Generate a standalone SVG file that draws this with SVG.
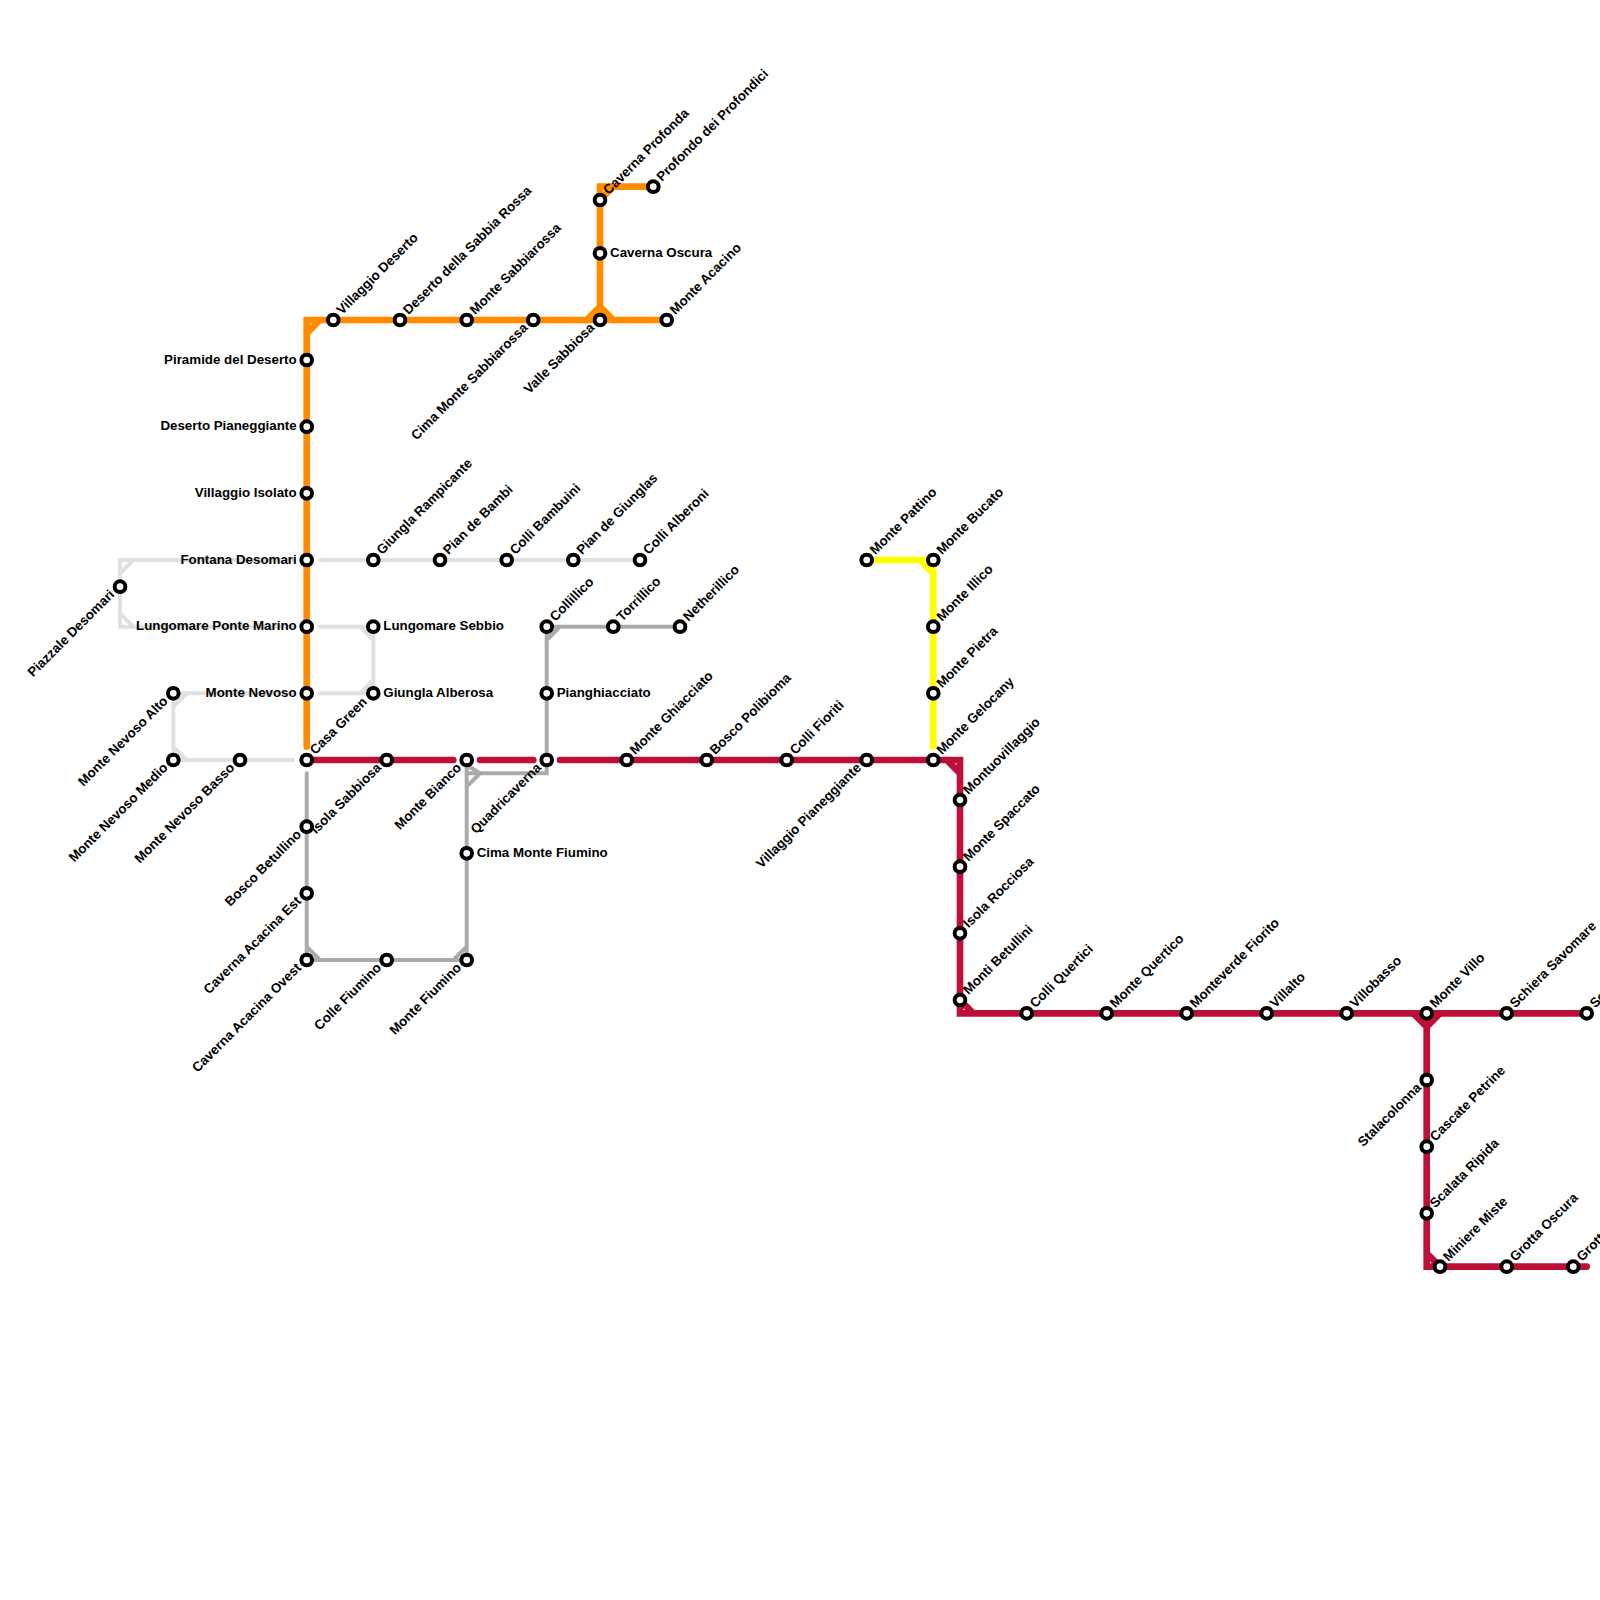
<svg xmlns="http://www.w3.org/2000/svg" width="1600" height="1600" viewBox="0 0 1600 1600">
<style>
.ln{fill:none;stroke-linecap:round;stroke-linejoin:miter}
.lg{stroke:#e0e0e0;stroke-width:4}
.gr{stroke:#aaaaaa;stroke-width:4}
.ye{stroke:#ffff00;stroke-width:6.67}
.or{stroke:#ff8c00;stroke-width:6.67}
.re{stroke:#bd1038;stroke-width:6.67}
circle{fill:#fff;stroke:#000;stroke-width:4}
text{font-family:"Liberation Sans",Arial,sans-serif;font-size:13.33px;font-weight:700;fill:#000}
.l,.ld{text-anchor:end}
</style>
<rect width="1600" height="1600" fill="#fff"/>
<g id="connectors">
<path class="ln lg" d="M293.3 560H120V626.7H293.3M120 573.3L133.3 560M120 613.3L133.3 626.7"/>
<path class="ln lg" d="M320 560H640"/>
<path class="ln lg" d="M320 626.7H373.3V693.3H320M360 626.7L373.3 640M373.3 680L360 693.3"/>
<path class="ln lg" d="M293.3 693.3H173.3V760H293.3M186.7 693.3L173.3 706.7M173.3 746.7L186.7 760"/>
<path class="ln gr" d="M306.7 773.3V960H466.7V766.7M306.7 946.7L320 960M453.3 960L466.7 946.7"/>
<path class="ln gr" d="M466.7 773.3H546.7V626.7H680M466.7 765L480 773.3L466.7 786.7M546.7 640L560 626.7"/>
<path class="ln ye" d="M866.7 560H933.3V746.7M920 560L933.3 573.3"/>
<path class="ln or" d="M306.7 746.7V320H666.7M306.7 333.3L320 320"/>
<path class="ln or" d="M600 320V186.7H653.3M586.7 320L600 306.7L613.3 320M600 200L613.3 186.7"/>
<path class="ln re" d="M306.7 760H453.3M480 760H533.3M560 760H960V1013.3H1586.7M946.7 760L960 773.3M960 1000L973.3 1013.3"/>
<path class="ln re" d="M1426.7 1013.3V1266.7H1586.7M1413.3 1013.3L1426.7 1026.7L1440 1013.3M1426.7 1253.3L1440 1266.7"/>
</g>
<g id="stations">
<g id="s-piazzale-desomari"><circle cx="120" cy="586.7" r="5.33"/><text class="ld" transform="translate(115.2 595.3) rotate(-45)">Piazzale Desomari</text></g>
<g id="s-monte-nevoso-alto"><circle cx="173.3" cy="693.3" r="5.33"/><text class="ld" transform="translate(168.5 701.9) rotate(-45)">Monte Nevoso Alto</text></g>
<g id="s-monte-nevoso-medio"><circle cx="173.3" cy="760" r="5.33"/><text class="ld" transform="translate(168.5 768.6) rotate(-45)">Monte Nevoso Medio</text></g>
<g id="s-monte-nevoso-basso"><circle cx="240" cy="760" r="5.33"/><text class="ld" transform="translate(235.2 768.6) rotate(-45)">Monte Nevoso Basso</text></g>
<g id="s-piramide"><circle cx="306.7" cy="360" r="5.33"/><text class="l" x="296.7" y="363.5">Piramide del Deserto</text></g>
<g id="s-deserto-pian"><circle cx="306.7" cy="426.7" r="5.33"/><text class="l" x="296.7" y="430.2">Deserto Pianeggiante</text></g>
<g id="s-villaggio-isolato"><circle cx="306.7" cy="493.3" r="5.33"/><text class="l" x="296.7" y="496.8">Villaggio Isolato</text></g>
<g id="s-fontana"><circle cx="306.7" cy="560" r="5.33"/><text class="l" x="296.7" y="563.5">Fontana Desomari</text></g>
<g id="s-lungomare-ponte"><circle cx="306.7" cy="626.7" r="5.33"/><text class="l" x="296.7" y="630.2">Lungomare Ponte Marino</text></g>
<g id="s-monte-nevoso"><circle cx="306.7" cy="693.3" r="5.33"/><text class="l" x="296.7" y="696.8">Monte Nevoso</text></g>
<g id="s-casa-green"><circle cx="306.7" cy="760" r="5.33"/><text class="ru" transform="translate(315.3 755.2) rotate(-45)">Casa Green</text></g>
<g id="s-bosco-betullino"><circle cx="306.7" cy="826.7" r="5.33"/><text class="ld" transform="translate(301.9 835.3) rotate(-45)">Bosco Betullino</text></g>
<g id="s-caverna-est"><circle cx="306.7" cy="893.3" r="5.33"/><text class="ld" transform="translate(301.9 901.9) rotate(-45)">Caverna Acacina Est</text></g>
<g id="s-caverna-ovest"><circle cx="306.7" cy="960" r="5.33"/><text class="ld" transform="translate(301.9 968.6) rotate(-45)">Caverna Acacina Ovest</text></g>
<g id="s-villaggio-deserto"><circle cx="333.3" cy="320" r="5.33"/><text class="ru" transform="translate(341.9 315.2) rotate(-45)">Villaggio Deserto</text></g>
<g id="s-deserto-sabbia"><circle cx="400" cy="320" r="5.33"/><text class="ru" transform="translate(408.6 315.2) rotate(-45)">Deserto della Sabbia Rossa</text></g>
<g id="s-monte-sabbiarossa"><circle cx="466.7" cy="320" r="5.33"/><text class="ru" transform="translate(475.3 315.2) rotate(-45)">Monte Sabbiarossa</text></g>
<g id="s-cima-sabbiarossa"><circle cx="533.3" cy="320" r="5.33"/><text class="ld" transform="translate(528.5 328.6) rotate(-45)">Cima Monte Sabbiarossa</text></g>
<g id="s-valle-sabbiosa"><circle cx="600" cy="320" r="5.33"/><text class="ld" transform="translate(595.2 328.6) rotate(-45)">Valle Sabbiosa</text></g>
<g id="s-monte-acacino"><circle cx="666.7" cy="320" r="5.33"/><text class="ru" transform="translate(675.3 315.2) rotate(-45)">Monte Acacino</text></g>
<g id="s-caverna-oscura"><circle cx="600" cy="253.3" r="5.33"/><text x="610" y="256.8">Caverna Oscura</text></g>
<g id="s-caverna-profonda"><circle cx="600" cy="200" r="5.33"/><text class="ru" transform="translate(608.6 195.2) rotate(-45)">Caverna Profonda</text></g>
<g id="s-profondo"><circle cx="653.3" cy="186.7" r="5.33"/><text class="ru" transform="translate(661.9 181.9) rotate(-45)">Profondo dei Profondici</text></g>
<g id="s-giungla-rampicante"><circle cx="373.3" cy="560" r="5.33"/><text class="ru" transform="translate(381.9 555.2) rotate(-45)">Giungla Rampicante</text></g>
<g id="s-pian-bambi"><circle cx="440" cy="560" r="5.33"/><text class="ru" transform="translate(448.6 555.2) rotate(-45)">Pian de Bambi</text></g>
<g id="s-colli-bambuini"><circle cx="506.7" cy="560" r="5.33"/><text class="ru" transform="translate(515.3 555.2) rotate(-45)">Colli Bambuini</text></g>
<g id="s-pian-giunglas"><circle cx="573.3" cy="560" r="5.33"/><text class="ru" transform="translate(581.9 555.2) rotate(-45)">Pian de Giunglas</text></g>
<g id="s-colli-alberoni"><circle cx="640" cy="560" r="5.33"/><text class="ru" transform="translate(648.6 555.2) rotate(-45)">Colli Alberoni</text></g>
<g id="s-lungomare-sebbio"><circle cx="373.3" cy="626.7" r="5.33"/><text x="383.3" y="630.2">Lungomare Sebbio</text></g>
<g id="s-giungla-alberosa"><circle cx="373.3" cy="693.3" r="5.33"/><text x="383.3" y="696.8">Giungla Alberosa</text></g>
<g id="s-collillico"><circle cx="546.7" cy="626.7" r="5.33"/><text class="ru" transform="translate(555.3 621.9) rotate(-45)">Collillico</text></g>
<g id="s-torrillico"><circle cx="613.3" cy="626.7" r="5.33"/><text class="ru" transform="translate(621.9 621.9) rotate(-45)">Torrillico</text></g>
<g id="s-netherillico"><circle cx="680" cy="626.7" r="5.33"/><text class="ru" transform="translate(688.6 621.9) rotate(-45)">Netherillico</text></g>
<g id="s-pianghiacciato"><circle cx="546.7" cy="693.3" r="5.33"/><text x="556.7" y="696.8">Pianghiacciato</text></g>
<g id="s-isola-sabbiosa"><circle cx="386.7" cy="760" r="5.33"/><text class="ld" transform="translate(381.9 768.6) rotate(-45)">Isola Sabbiosa</text></g>
<g id="s-monte-bianco"><circle cx="466.7" cy="760" r="5.33"/><text class="ld" transform="translate(461.9 768.6) rotate(-45)">Monte Bianco</text></g>
<g id="s-quadricaverna"><circle cx="546.7" cy="760" r="5.33"/><text class="ld" transform="translate(541.9 768.6) rotate(-45)">Quadricaverna</text></g>
<g id="s-cima-fiumino"><circle cx="466.7" cy="853.3" r="5.33"/><text x="476.7" y="856.8">Cima Monte Fiumino</text></g>
<g id="s-colle-fiumino"><circle cx="386.7" cy="960" r="5.33"/><text class="ld" transform="translate(381.9 968.6) rotate(-45)">Colle Fiumino</text></g>
<g id="s-monte-fiumino"><circle cx="466.7" cy="960" r="5.33"/><text class="ld" transform="translate(461.9 968.6) rotate(-45)">Monte Fiumino</text></g>
<g id="s-monte-ghiacciato"><circle cx="626.7" cy="760" r="5.33"/><text class="ru" transform="translate(635.3 755.2) rotate(-45)">Monte Ghiacciato</text></g>
<g id="s-bosco-polibioma"><circle cx="706.7" cy="760" r="5.33"/><text class="ru" transform="translate(715.3 755.2) rotate(-45)">Bosco Polibioma</text></g>
<g id="s-colli-fioriti"><circle cx="786.7" cy="760" r="5.33"/><text class="ru" transform="translate(795.3 755.2) rotate(-45)">Colli Fioriti</text></g>
<g id="s-villaggio-pian"><circle cx="866.7" cy="760" r="5.33"/><text class="ld" transform="translate(861.9 768.6) rotate(-45)">Villaggio Pianeggiante</text></g>
<g id="s-monte-pattino"><circle cx="866.7" cy="560" r="5.33"/><text class="ru" transform="translate(875.3 555.2) rotate(-45)">Monte Pattino</text></g>
<g id="s-monte-bucato"><circle cx="933.3" cy="560" r="5.33"/><text class="ru" transform="translate(941.9 555.2) rotate(-45)">Monte Bucato</text></g>
<g id="s-monte-illico"><circle cx="933.3" cy="626.7" r="5.33"/><text class="ru" transform="translate(941.9 621.9) rotate(-45)">Monte Illico</text></g>
<g id="s-monte-pietra"><circle cx="933.3" cy="693.3" r="5.33"/><text class="ru" transform="translate(941.9 688.5) rotate(-45)">Monte Pietra</text></g>
<g id="s-monte-gelocany"><circle cx="933.3" cy="760" r="5.33"/><text class="ru" transform="translate(941.9 755.2) rotate(-45)">Monte Gelocany</text></g>
<g id="s-montuovillaggio"><circle cx="960" cy="800" r="5.33"/><text class="ru" transform="translate(968.6 795.2) rotate(-45)">Montuovillaggio</text></g>
<g id="s-monte-spaccato"><circle cx="960" cy="866.7" r="5.33"/><text class="ru" transform="translate(968.6 861.9) rotate(-45)">Monte Spaccato</text></g>
<g id="s-isola-rocciosa"><circle cx="960" cy="933.3" r="5.33"/><text class="ru" transform="translate(968.6 928.5) rotate(-45)">Isola Rocciosa</text></g>
<g id="s-monti-betullini"><circle cx="960" cy="1000" r="5.33"/><text class="ru" transform="translate(968.6 995.2) rotate(-45)">Monti Betullini</text></g>
<g id="s-colli-quertici"><circle cx="1026.7" cy="1013.3" r="5.33"/><text class="ru" transform="translate(1035.3 1008.5) rotate(-45)">Colli Quertici</text></g>
<g id="s-monte-quertico"><circle cx="1106.7" cy="1013.3" r="5.33"/><text class="ru" transform="translate(1115.3 1008.5) rotate(-45)">Monte Quertico</text></g>
<g id="s-monteverde"><circle cx="1186.7" cy="1013.3" r="5.33"/><text class="ru" transform="translate(1195.3 1008.5) rotate(-45)">Monteverde Fiorito</text></g>
<g id="s-villalto"><circle cx="1266.7" cy="1013.3" r="5.33"/><text class="ru" transform="translate(1275.3 1008.5) rotate(-45)">Villalto</text></g>
<g id="s-villobasso"><circle cx="1346.7" cy="1013.3" r="5.33"/><text class="ru" transform="translate(1355.3 1008.5) rotate(-45)">Villobasso</text></g>
<g id="s-monte-villo"><circle cx="1426.7" cy="1013.3" r="5.33"/><text class="ru" transform="translate(1435.3 1008.5) rotate(-45)">Monte Villo</text></g>
<g id="s-schiera"><circle cx="1506.7" cy="1013.3" r="5.33"/><text class="ru" transform="translate(1515.3 1008.5) rotate(-45)">Schiera Savomare</text></g>
<g id="s-sc"><circle cx="1586.7" cy="1013.3" r="5.33"/><text class="ru" transform="translate(1595.3 1008.5) rotate(-45)">Sc</text></g>
<g id="s-stalacolonna"><circle cx="1426.7" cy="1080" r="5.33"/><text class="ld" transform="translate(1421.9 1088.6) rotate(-45)">Stalacolonna</text></g>
<g id="s-cascate"><circle cx="1426.7" cy="1146.7" r="5.33"/><text class="ru" transform="translate(1435.3 1141.9) rotate(-45)">Cascate Petrine</text></g>
<g id="s-scalata"><circle cx="1426.7" cy="1213.3" r="5.33"/><text class="ru" transform="translate(1435.3 1208.5) rotate(-45)">Scalata Ripida</text></g>
<g id="s-miniere"><circle cx="1440" cy="1266.7" r="5.33"/><text class="ru" transform="translate(1448.6 1261.9) rotate(-45)">Miniere Miste</text></g>
<g id="s-grotta-oscura"><circle cx="1506.7" cy="1266.7" r="5.33"/><text class="ru" transform="translate(1515.3 1261.9) rotate(-45)">Grotta Oscura</text></g>
<g id="s-grott"><circle cx="1573.3" cy="1266.7" r="5.33"/><text class="ru" transform="translate(1581.9 1261.9) rotate(-45)">Grott</text></g>
</g>
</svg>
